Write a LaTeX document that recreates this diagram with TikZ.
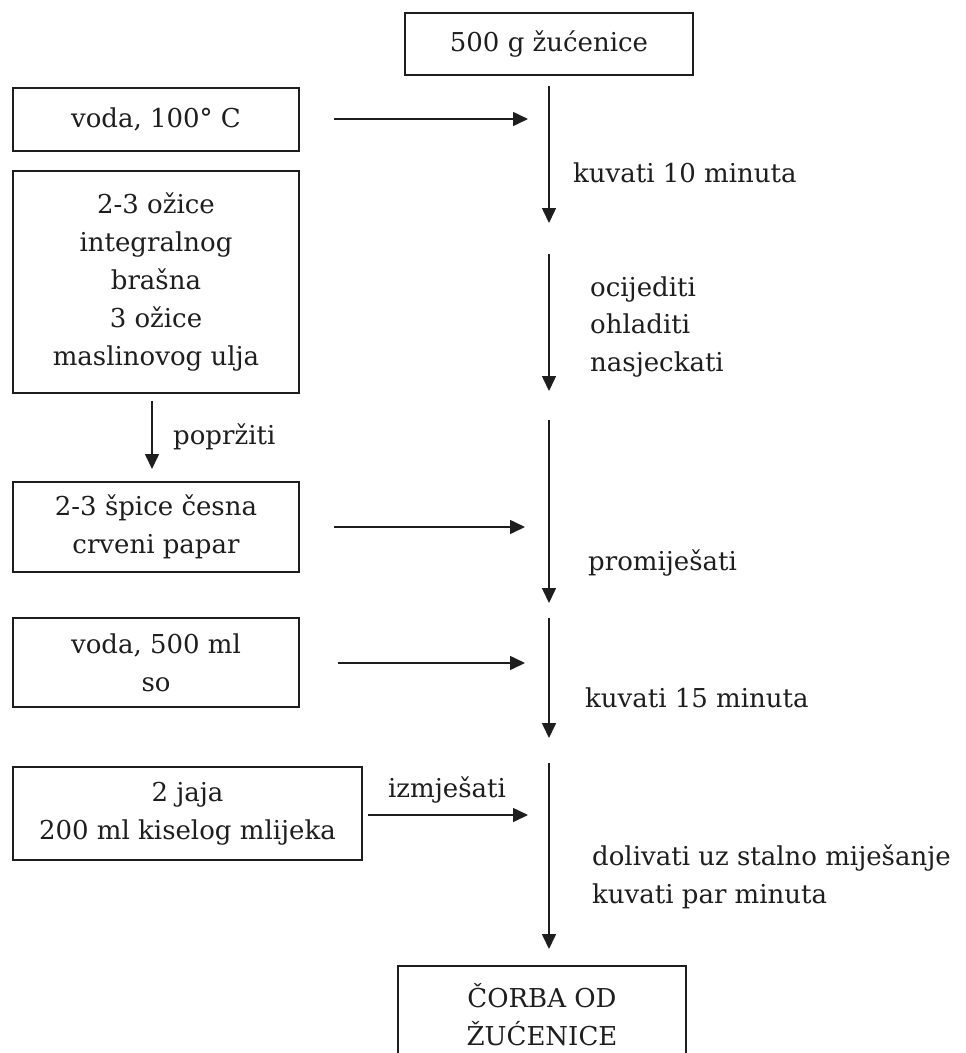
\documentclass[tikz,border=0pt]{standalone}
\usepackage{fontspec}
\setmainfont{DejaVu Serif}
\usetikzlibrary{arrows.meta}
\definecolor{ink}{HTML}{1E1E1E}
\tikzset{
  box/.style={draw=ink, line width=1.6pt, align=center, text=ink, inner sep=0pt,
    font=\fontsize{26}{38}\selectfont},
  lbl/.style={anchor=west, align=left, text=ink, inner sep=0pt,
    font=\fontsize{26}{37.5}\selectfont},
  flow/.style={draw=ink, line width=1.6pt, -{Triangle[length=15pt,width=14pt]}}
}
\begin{document}
\begin{tikzpicture}[x=1pt,y=-1pt]
\useasboundingbox (0,0) rectangle (966,1053);
\clip (0,0) rectangle (966,1053);
\fill[white] (0,0) rectangle (966,1053);
% boxes
\node[box, minimum width=288pt, minimum height=62pt] (b1) at (549,44) {500 g žućenice};
\node[box, minimum width=286pt, minimum height=63pt] (b2) at (156,119.5) {voda, 100° C};
\node[box, minimum width=286pt, minimum height=222pt] (b3) at (156,282) {2-3 ožice\\integralnog\\brašna\\3 ožice\\maslinovog ulja};
\node[box, minimum width=286pt, minimum height=90pt] (b4) at (156,527) {2-3 špice česna\\crveni papar};
\node[box, minimum width=286pt, minimum height=89pt] (b5) at (156,662.5) {voda, 500 ml\\so};
\node[box, minimum width=349pt, minimum height=93pt] (b6) at (187.5,813.5) {2 jaja\\200 ml kiselog mlijeka};
\node[box, minimum width=288pt, minimum height=98pt] (b7) at (542,1015) {ČORBA OD\\ŽUĆENICE};
% main line coordinates
\coordinate (m1a) at (549,86);  \coordinate (m1b) at (549,223);
\coordinate (m2a) at (549,254); \coordinate (m2b) at (549,391);
\coordinate (m3a) at (549,420); \coordinate (m3b) at (549,603);
\coordinate (m4a) at (549,618); \coordinate (m4b) at (549,738);
\coordinate (m5a) at (549,763); \coordinate (m5b) at (549,949);
\draw[flow] (m1a) -- (m1b);
\draw[flow] (m2a) -- (m2b);
\draw[flow] (m3a) -- (m3b);
\draw[flow] (m4a) -- (m4b);
\draw[flow] (m5a) -- (m5b);
% side arrows
\coordinate (h1a) at (334,119); \coordinate (h1b) at (528,119);
\coordinate (h2a) at (334,527); \coordinate (h2b) at (525,527);
\coordinate (h3a) at (338,663); \coordinate (h3b) at (525,663);
\coordinate (h4b) at (528,815);
\draw[flow] (h1a) -- (h1b);
\draw[flow] (h2a) -- (h2b);
\draw[flow] (h3a) -- (h3b);
\draw[flow] (b6.east |- h4b) ++(5,0) coordinate (h4a) -- (h4b);
% left vertical arrow
\coordinate (p1) at (152,469);
\draw[flow] (b3.south -| p1) ++(0,7) -- (p1);
% labels
\node[lbl] (l1) at (573,173) {kuvati 10 minuta};
\node[lbl] (l2) at (590,327) {ocijediti\\ohladiti\\nasjeckati};
\node[lbl] (l3) at (588,563) {promiješati};
\node[lbl] (l4) at (585,698) {kuvati 15 minuta};
\node[lbl] (l5) at (592,877) {dolivati uz stalno miješanje\\kuvati par minuta};
\node[lbl] (l6) at (173,437) {popržiti};
\node[text=ink, inner sep=0pt, font=\fontsize{26}{37.5}\selectfont] (l7) at (447,790) {izmješati};
\end{tikzpicture}
\end{document}
